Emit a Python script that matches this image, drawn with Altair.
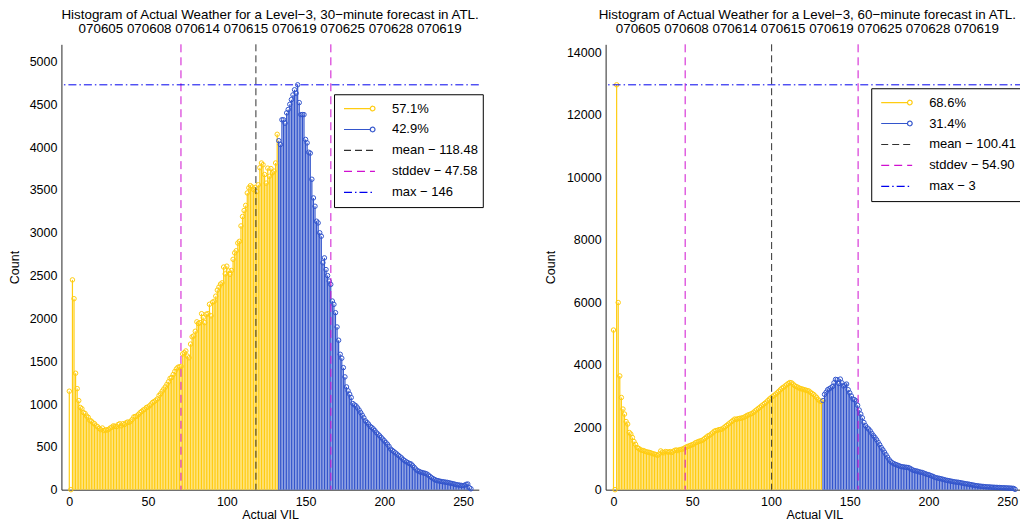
import altair as alt
import pandas as pd

# ---------------- data ----------------
bins = list(range(256))

counts_30 = [
    1150, 0, 2450, 2230, 1360, 1180, 1040, 960, 945, 900,
    890, 860, 845, 810, 800, 780, 770, 745, 735, 715,
    700, 720, 690, 700, 695, 705, 720, 730, 745, 740,
    735, 760, 770, 745, 770, 760, 780, 790, 785, 800,
    820, 850, 855, 860, 880, 900, 915, 930, 940, 960,
    965, 980, 1000, 1020, 1030, 1045, 1060, 1100, 1120, 1150,
    1175, 1200, 1230, 1260, 1300, 1310, 1345, 1380, 1410, 1430,
    1435, 1440, 1585, 1600, 1620, 1560, 1540, 1700, 1785, 1795,
    1850, 1960, 1940, 1950, 2055, 2010, 1950, 2050, 2055, 2165,
    2030, 2190, 2200, 2260, 2330, 2365, 2400, 2415, 2600, 2520,
    2610, 2555, 2515, 2560, 2690, 2765, 2790, 2880, 2900, 3080,
    3190, 3260, 3320, 3465, 3525, 3550, 3535, 3505, 3530, 3480,
    3560, 3760, 3815, 3795, 3680, 3580, 3755, 3660, 3750, 3700,
    3720, 3815, 4150, 4075, 4030, 4320, 4320, 4280, 4400, 4440,
    4500, 4555, 4610, 4670, 4630, 4728, 4520, 4380, 4380, 4380,
    4090, 4050, 3940, 3930, 3625, 3407, 3310, 3135, 3115, 3000,
    2960, 2650, 2707, 2570, 2500, 2436, 2397, 2203, 2164, 2067,
    1900, 1745, 1581, 1535, 1425, 1317, 1200, 1154, 1115, 1076,
    1006, 990, 979, 955, 930, 900, 870, 840, 804, 785,
    765, 740, 726, 710, 690, 665, 649, 630, 610, 590,
    571, 550, 530, 505, 474, 460, 445, 430, 416, 400,
    385, 370, 350, 338, 325, 315, 305, 300, 280, 260,
    240, 221, 215, 205, 200, 195, 190, 183, 170, 155,
    140, 128, 118, 108, 105, 100, 96, 93, 90, 87,
    85, 80, 76, 72, 68, 62, 58, 55, 52, 50,
    48, 52, 62, 66, 23, 10,
]

counts_60 = [
    5110, 0, 12960, 5990, 3640, 2950, 2580, 2420, 2180, 2100,
    1830, 1780, 1670, 1540, 1450, 1350, 1320, 1280, 1260, 1250,
    1230, 1210, 1200, 1190, 1170, 1150, 1140, 1120, 1100, 1140,
    1240, 1200, 1180, 1220, 1210, 1200, 1220, 1190, 1230, 1260,
    1270, 1250, 1280, 1290, 1300, 1330, 1360, 1380, 1400, 1420,
    1440, 1460, 1500, 1520, 1540, 1560, 1570, 1600, 1640, 1680,
    1720, 1740, 1780, 1820, 1870, 1890, 1900, 1920, 1930, 1940,
    1980, 2020, 2060, 2100, 2140, 2180, 2220, 2260, 2250, 2270,
    2280, 2290, 2300, 2320, 2350, 2380, 2400, 2420, 2440, 2480,
    2520, 2560, 2600, 2640, 2680, 2720, 2760, 2800, 2850, 2900,
    2940, 2980, 3020, 3060, 3100, 3150, 3200, 3250, 3280, 3320,
    3360, 3400, 3430, 3420, 3380, 3330, 3300, 3280, 3250, 3230,
    3220, 3200, 3190, 3170, 3160, 3120, 3080, 3050, 3000, 2950,
    2880, 2840, 2820, 2850, 3050, 3120, 3200, 3230, 3260, 3300,
    3420, 3530, 3520, 3400, 3540, 3420, 3320, 3350, 3380, 3200,
    3100, 3000, 2900, 2880, 2840, 2700, 2550, 2420, 2300, 2150,
    2050, 1980, 1940, 1880, 1800, 1730, 1670, 1600, 1520, 1440,
    1350, 1280, 1200, 1120, 1040, 960, 900, 860, 830, 810,
    790, 770, 750, 735, 730, 720, 715, 710, 690, 660,
    630, 610, 600, 590, 570, 560, 550, 530, 510, 490,
    480, 460, 440, 420, 395, 380, 370, 360, 345, 335,
    320, 305, 295, 285, 275, 265, 255, 245, 240, 235,
    225, 215, 205, 195, 185, 180, 170, 160, 150, 140,
    130, 125, 115, 110, 105, 100, 95, 90, 88, 85,
    80, 78, 75, 72, 70, 68, 65, 62, 60, 58,
    55, 52, 50, 45, 40, 10,
]

threshold = 133  # first bin drawn in blue

labels_30 = ["57.1%", "42.9%", "mean \u2212 118.48", "stddev \u2212 47.58", "max \u2212 146"]
labels_60 = ["68.6%", "31.4%", "mean \u2212 100.41", "stddev \u2212 54.90", "max \u2212 3"]
mean_30, std_30 = 118.48, 47.58
mean_60, std_60 = 100.41, 54.90

title_30 = ["Histogram of Actual Weather for a Level\u22123, 30\u2212minute forecast in ATL.",
            "070605 070608 070614 070615 070619 070625 070628 070619"]
title_60 = ["Histogram of Actual Weather for a Level\u22123, 60\u2212minute forecast in ATL.",
            "070605 070608 070614 070615 070619 070625 070628 070619"]

x_ticks = [0, 50, 100, 150, 200, 250]
y_ticks_30 = list(range(0, 5001, 500))
y_ticks_60 = list(range(0, 14001, 2000))

# ---------------- styles ----------------
FONT = "Liberation Sans"
COLORS = ["#FFCC11", "#3355CC", "#303030", "#D010D0", "#0000EE"]
DASHES = [[1, 0], [1, 0], [7, 4], [8, 5], [8, 3, 1.5, 3]]
LINE_CIRCLE = "M-1,0L0.7,0M1,0A0.15,0.15,0,1,1,0.7,0A0.15,0.15,0,1,1,1,0"
SHAPES = [LINE_CIRCLE, LINE_CIRCLE, "stroke", "stroke", "stroke"]


def panel(counts, labels, mean, std, title, yticks, lx, ly, ttl_pad, extent, title_dx):
    df = pd.DataFrame({"bin": bins, "count": counts})
    df["key"] = [labels[0] if b < threshold else labels[1] for b in bins]
    ymax = max(counts) * 1.1

    xscale = alt.Scale(domain=[-5, 260], nice=False, zero=False)
    yscale = alt.Scale(domain=[0, ymax], nice=False)
    xaxis = alt.Axis(values=x_ticks, title="Actual VIL", grid=False, ticks=False,
                     labelPadding=6.2, titlePadding=0.5, labelFontSize=12.5, titleFontSize=12.5,
                     labelFlush=False, labelOverlap=False)
    yaxis = alt.Axis(values=yticks, format="d", title="Count", grid=False, ticks=False,
                     labelPadding=4.5, titlePadding=ttl_pad, labelFontSize=12.5,
                     titleFontSize=12.5, minExtent=extent, maxExtent=extent,
                     labelOverlap=False)

    legend = alt.Legend(title=None, orient="none", legendX=lx, legendY=ly,
                        symbolSize=961, symbolStrokeWidth=1.2, labelFontSize=13,
                        labelFont=FONT, labelColor="black", labelOffset=16,
                        labelLimit=300, padding=4, strokeColor="black",
                        fillColor="white", clipHeight=20.6, rowPadding=0,
                        symbolOffset=5, cornerRadius=0)
    color = alt.Color("key:N", scale=alt.Scale(domain=labels, range=COLORS), legend=legend)
    dash = alt.StrokeDash("key:N", scale=alt.Scale(domain=labels, range=DASHES), legend=legend)
    shape = alt.Shape("key:N", scale=alt.Scale(domain=labels, range=SHAPES), legend=legend)

    x = alt.X("bin:Q", scale=xscale, axis=xaxis)
    y = alt.Y("count:Q", scale=yscale, axis=yaxis)

    stems = alt.Chart(df).mark_rule(strokeWidth=1.2).encode(x=x, y=y, y2=alt.datum(0), color=color)
    dots = alt.Chart(df).mark_point(filled=False, size=20, strokeWidth=1, opacity=1).encode(
        x=x, y=y, color=color)

    vdf = pd.DataFrame({"pos": [mean, mean - std, mean + std],
                        "key": [labels[2], labels[3], labels[3]]})
    vlines = alt.Chart(vdf).mark_rule(strokeWidth=1).encode(
        x=alt.X("pos:Q", scale=xscale, axis=xaxis), color=color, strokeDash=dash)

    hdf = pd.DataFrame({"val": [max(counts)], "key": [labels[4]]})
    hline = alt.Chart(hdf).mark_rule(strokeWidth=1).encode(
        y=alt.Y("val:Q", scale=yscale, axis=yaxis), color=color, strokeDash=dash)

    dummy = alt.Chart(pd.DataFrame({"key": labels})).transform_filter("false").mark_point(
        filled=False, opacity=1).encode(shape=shape, color=color, strokeDash=dash)

    return alt.layer(stems, dots, vlines, hline, dummy).properties(
        width=418, height=446,
        title=alt.TitleParams(text=title, fontSize=13.4, font=FONT, fontWeight="normal",
                              anchor="middle", offset=8, color="black", lineHeight=14,
                              dx=title_dx),
    )


p1 = panel(counts_30, labels_30, mean_30, std_30, title_30, y_ticks_30, 273, 50, 7.5, 32.5, 0)
p2 = panel(counts_60, labels_60, mean_60, std_60, title_60, y_ticks_60, 266, 44, 8.25, 39.5, -7)

chart = alt.hconcat(p1, p2, spacing=127, bounds="flush").resolve_scale(
    color="independent", strokeDash="independent", shape="independent",
    x="independent", y="independent",
).properties(
    padding={"left": 0.5, "top": 0, "right": -4, "bottom": 0}
).configure_view(strokeWidth=0).configure_axis(
    labelFont=FONT, titleFont=FONT, labelColor="black", titleColor="black",
    titleFontWeight="normal", domainColor="#262626", domainWidth=1,
)

chart.save("out.html", embed_options={"renderer": "svg", "actions": False})
